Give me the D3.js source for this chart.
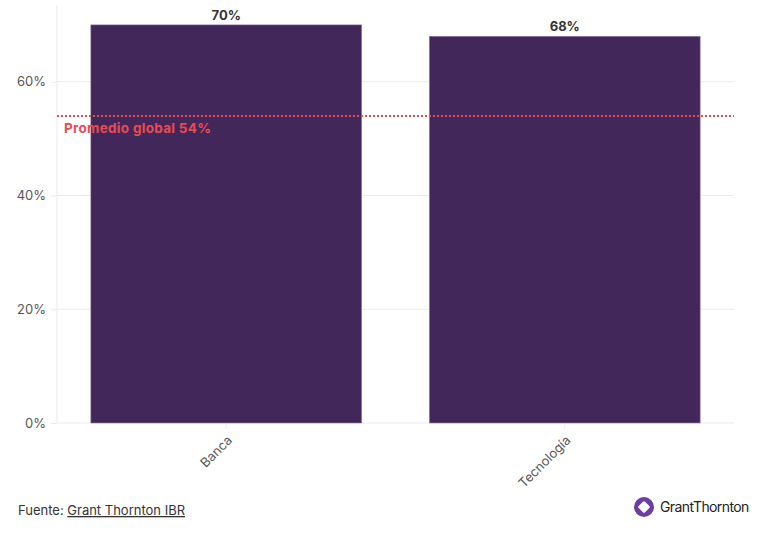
<!DOCTYPE html>
<html>
<head>
<meta charset="utf-8">
<script src="https://cdn.jsdelivr.net/npm/d3@7"></script>
<style>
  body { margin: 0; background: #fff; font-family: Inter, "Open Sans", sans-serif; }
  svg text { font-family: Inter, "Open Sans", sans-serif; }
</style>
</head>
<body>
<div id="chart"></div>
<script>
// data
var categories = ["Banca", "Tecnología"];
var values = [70, 68];
var yTicks = [0, 20, 40, 60];
var globalAvg = 54;
var avgLabel = "Promedio global 54%";

var baseWidth = 771;
var baseHeight = 546;
var margin = {top: 5, right: 37, bottom: 123, left: 57},
    width = baseWidth - margin.left - margin.right,
    height = baseHeight - margin.top - margin.bottom;

var svg = d3.select("#chart")
    .append("svg")
    .attr("width", baseWidth)
    .attr("height", baseHeight);

var g = svg.append("g")
    .attr("transform", "translate(" + margin.left + "," + margin.top + ")");

var x = d3.scaleBand()
    .domain(categories)
    .range([0, width])
    .paddingInner(0.2)
    .paddingOuter(0.1);

var y = d3.scaleLinear()
    .domain([0, 73.5])
    .range([height, 0]);

// gridlines
g.selectAll("line.grid")
    .data(yTicks)
    .enter()
    .append("line")
    .attr("class", "grid")
    .attr("x1", 0)
    .attr("x2", width)
    .attr("y1", d => y(d))
    .attr("y2", d => y(d))
    .style("stroke", "#ebebeb")
    .style("stroke-width", 1);

// left axis line
g.append("line")
    .attr("x1", 0).attr("x2", 0)
    .attr("y1", 0).attr("y2", height)
    .style("stroke", "#ebebeb");

// y axis
var yAxis = g.append("g")
    .call(d3.axisLeft(y).tickValues(yTicks).tickFormat(d => d + "%").tickSize(6).tickPadding(5));
yAxis.select(".domain").remove();
yAxis.selectAll(".tick line").style("stroke", "#ebebeb");
yAxis.selectAll("text")
    .style("font-size", "13px")
    .style("fill", "#555");

// x axis
var xAxis = g.append("g")
    .attr("transform", "translate(0," + height + ")")
    .call(d3.axisBottom(x).tickSize(6).tickPadding(4));
xAxis.select(".domain").remove();
xAxis.selectAll(".tick line").style("stroke", "#ebebeb");
xAxis.selectAll("text")
    .style("font-size", "13px")
    .style("fill", "#555")
    .attr("text-anchor", "end")
    .attr("dx", "-8px")
    .attr("dy", "7.5px")
    .attr("transform", "rotate(-45)");

// bars
g.selectAll("rect.bar")
    .data(values)
    .enter()
    .append("rect")
    .attr("class", "bar")
    .attr("x", (d, i) => x(categories[i]))
    .attr("y", d => y(d))
    .attr("width", x.bandwidth())
    .attr("height", d => height - y(d))
    .style("fill", "#42275a")
    .style("stroke", "#8e7fa0")
    .style("stroke-width", 0.6);

// value labels
g.selectAll("text.val")
    .data(values)
    .enter()
    .append("text")
    .attr("class", "val")
    .attr("x", (d, i) => x(categories[i]) + x.bandwidth() / 2)
    .attr("y", d => y(d) - 5)
    .attr("text-anchor", "middle")
    .style("font-size", "13px")
    .style("font-weight", "bold")
    .style("fill", "#333")
    .text(d => d + "%");

// global average line
g.append("line")
    .attr("x1", 0)
    .attr("x2", width)
    .attr("y1", y(globalAvg))
    .attr("y2", y(globalAvg))
    .style("stroke", "#ea4b52")
    .style("stroke-width", 2)
    .style("stroke-dasharray", "2,2");

g.append("text")
    .attr("x", 7)
    .attr("y", y(globalAvg) + 17)
    .style("font-size", "13.5px")
    .style("font-weight", "bold")
    .style("letter-spacing", "0.3px")
    .style("fill", "#ea4b52")
    .text(avgLabel);

// footer
var foot = svg.append("text")
    .attr("x", 18)
    .attr("y", 515)
    .style("font-size", "13px")
    .style("fill", "#333");
foot.append("tspan").text("Fuente: ");
foot.append("tspan").style("text-decoration", "underline").text("Grant Thornton IBR");

// logo
var logo = svg.append("g").attr("transform", "translate(644,507)");
logo.append("circle").attr("r", 10).style("fill", "#6a3fa0");
logo.append("rect")
    .attr("x", -4.5).attr("y", -4.5)
    .attr("width", 9).attr("height", 9)
    .attr("rx", 1.5)
    .attr("transform", "rotate(45)")
    .style("fill", "#fff");
logo.append("text")
    .attr("x", 16)
    .attr("y", 5)
    .style("font-size", "14px")
    .style("letter-spacing", "-0.6px")
    .style("fill", "#222")
    .text("GrantThornton");
</script>
</body>
</html>
